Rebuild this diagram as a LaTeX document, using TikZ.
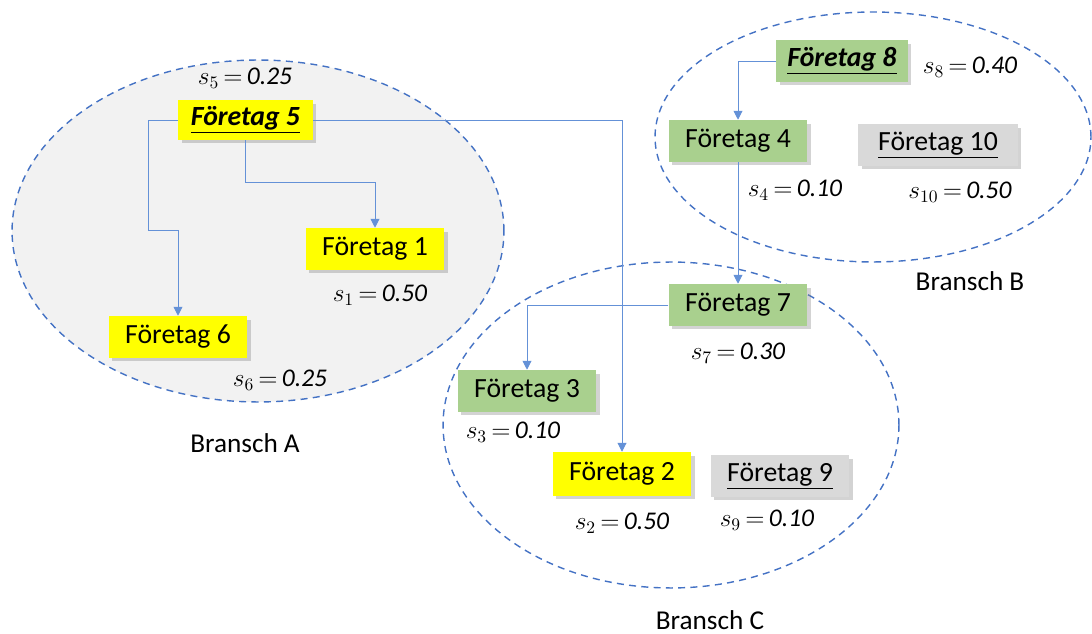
\documentclass[tikz,border=0pt]{standalone}
\usepackage{fontspec}
\setmainfont{Carlito}
\usetikzlibrary{shadows,arrows.meta}
\definecolor{ellblue}{RGB}{68,114,196}
\definecolor{connblue}{RGB}{100,145,215}
\definecolor{boxyellow}{RGB}{255,255,0}
\definecolor{boxgreen}{RGB}{169,208,142}
\definecolor{boxgray}{RGB}{217,217,217}
\definecolor{ellfill}{RGB}{242,242,242}
\tikzset{
  firm/.style={minimum width=79pt, minimum height=23.8pt, inner sep=0pt,
    font=\fontsize{15.8}{18}\selectfont,
    drop shadow={opacity=0.35, shadow xshift=2pt, shadow yshift=-2pt}},
  ylw/.style={firm, fill=boxyellow},
  grn/.style={firm, fill=boxgreen},
  gry/.style={firm, fill=boxgray},
  share/.style={font=\fontsize{14.5}{17}\selectfont, inner sep=0pt},
  branch/.style={font=\fontsize{15.5}{18}\selectfont, inner sep=0pt},
  conn/.style={draw=connblue, line width=0.55pt, -{Triangle[width=5pt,length=5pt]}},
  bransch/.style={draw=ellblue, dashed, line width=0.8pt, dash pattern=on 4pt off 3pt}
}
\newcommand{\shr}[2]{$s_{#1}$\,$=$\,\textit{#2}}
\begin{document}
\begin{tikzpicture}[x=0.02cm,y=-0.02cm]
\useasboundingbox (0,0) rectangle (1092,634);
% ellipses
\draw[bransch, fill=ellfill] (258,231) ellipse [x radius=4.92cm, y radius=3.42cm];
\draw[bransch] (873,137) ellipse [x radius=4.36cm, y radius=2.5cm];
\draw[bransch] (671,425) ellipse [x radius=4.56cm, y radius=3.26cm];
% firms
\node[ylw, minimum width=76.5pt, minimum height=22.7pt] (f5) at (245.5,120) {\textbf{\textit{\underline{Företag 5}}}};
\node[ylw] (f1) at (375,249) {Företag 1};
\node[ylw] (f6) at (178,337) {Företag 6};
\node[grn, minimum width=75pt] (f8) at (842,61) {\textbf{\textit{\underline{Företag 8}}}};
\node[grn] (f4) at (738,141) {Företag 4};
\node[gry, minimum width=90.7pt] (f10) at (938,145) {\underline{Företag 10}};
\node[grn] (f7) at (738,305) {Företag 7};
\node[grn] (f3) at (527,391) {Företag 3};
\node[ylw, minimum height=24.9pt] (f2) at (622,474) {Företag 2};
\node[gry] (f9) at (780,476) {\underline{Företag 9}};
% shares
\node[share] (s5) at (245,78) {\shr{5}{0.25}};
\node[share] (s1) at (380,295) {\shr{1}{0.50}};
\node[share] (s6) at (280,380) {\shr{6}{0.25}};
\node[share] (s8) at (970,67) {\shr{8}{0.40}};
\node[share] (s4) at (795,190) {\shr{4}{0.10}};
\node[share] (s10) at (960,192) {\shr{10}{0.50}};
\node[share] (s7) at (738,353) {\shr{7}{0.30}};
\node[share] (s3) at (513,432) {\shr{3}{0.10}};
\node[share] (s2) at (622,523) {\shr{2}{0.50}};
\node[share] (s9) at (767,520) {\shr{9}{0.10}};
% branch labels
\node[branch] (ba) at (245,443) {Bransch A};
\node[branch] (bb) at (970,281) {Bransch B};
\node[branch] (bc) at (710,620) {Bransch C};
% connectors
\coordinate (c56) at (148,230);
\coordinate (c51) at (245.5,182);
\draw[conn] (f5.west) -| (c56) -| (f6.north);
\draw[conn] (f5.south) -- (c51) -| (f1.north);
\draw[conn] (f5.east) -| (f2.north);
\draw[conn] (f8.west) -| (f4.north);
\draw[conn] (f4.south) -- (f7.north);
\draw[conn] (f7.west) -| (f3.north);
\end{tikzpicture}
\end{document}
